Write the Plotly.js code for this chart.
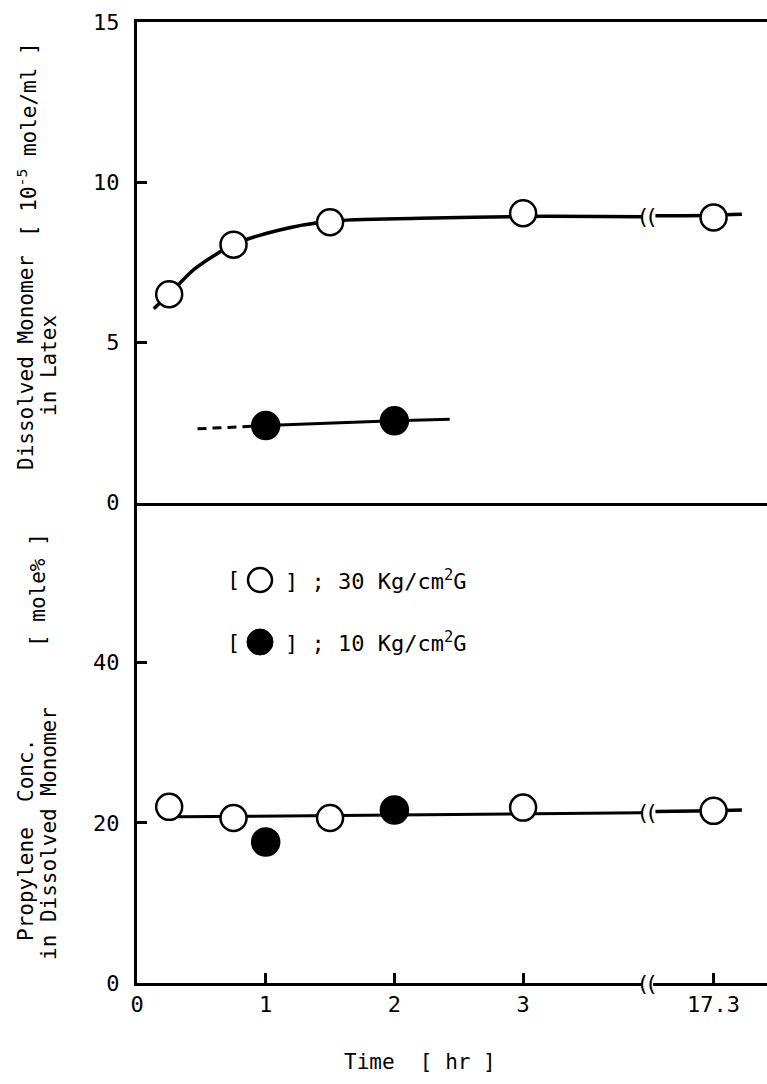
<!DOCTYPE html>
<html><head><meta charset="utf-8">
<script src="https://cdn.plot.ly/plotly-3.0.1.min.js"></script>
<style>html,body{margin:0;padding:0;background:#fff;}</style>
</head><body><div id="chart" style="width:767px;height:1084px;"></div>
<script>
// ---- data (time in hours) ----
const timeOpen = [0.25, 0.75, 1.5, 3, 17.3];
const monomer30 = [6.5, 8.05, 8.75, 9.03, 8.9];
const timeFilled = [1, 2];
const monomer10 = [2.4, 2.55];
const propylene30 = [22.0, 20.6, 20.6, 21.9, 21.5];
const propylene10 = [17.6, 21.6];

// hand-drawn curves through the points
const fit30T = [0.13, 0.25, 0.45, 0.75, 1.1, 1.5, 2.2, 3.0, 3.92];
const fit30Y = [6.05, 6.5, 7.3, 8.05, 8.5, 8.78, 8.87, 8.93, 8.92];
const fit30TLate = [16.17, 17.3, 17.85];
const fit30YLate = [8.95, 8.97, 9.0];
const fit10TDash = [0.47, 1.0];
const fit10YDash = [2.3, 2.4];
const fit10T = [1.0, 2.0, 2.43];
const fit10Y = [2.4, 2.55, 2.6];
const prop30T = [0.32, 3.92];
const prop30Y = [20.75, 21.25];
const prop30TLate = [16.17, 17.3, 17.85];
const prop30YLate = [21.4, 21.5, 21.6];

const tickTimes = [0, 1, 2, 3, 17.3];
const tickLabels = ['0', '1', '2', '3', '17.3'];
const yTopTicks = [0, 5, 10, 15];
const yBotTicks = [0, 20, 40];

// broken time axis: linear up to 4 h, then a compressed segment around 17.3 h
function pos(t) { return t <= 4 ? t : 4.48 + (t - 17.3) * 0.4; }
const P = a => a.map(pos);

const FONT = 'DejaVu Sans Mono, monospace';
const BLK = 'black';

function line(xs, ys, ax, dash, w) {
  return {x: P(xs), y: ys, xaxis: ax === 'y2' ? 'x2' : 'x', yaxis: ax, mode: 'lines', hoverinfo: 'skip',
    line: {color: BLK, width: w || 3, shape: 'spline', smoothing: 0.8, dash: dash || 'solid'}};
}
function pts(xs, ys, ax, filled) {
  return {x: P(xs), y: ys, xaxis: ax === 'y2' ? 'x2' : 'x', yaxis: ax, mode: 'markers',
    marker: {size: filled ? 27 : 26, color: filled ? BLK : 'white', line: {color: BLK, width: 2.5}}};
}

const traces = [
  line(fit30T, fit30Y, 'y2', null, 3.5),
  line(fit30TLate, fit30YLate, 'y2', null, 3.5),
  line(fit10TDash, fit10YDash, 'y2', '9px,6px', 3),
  line(fit10T, fit10Y, 'y2', null, 3),
  line(prop30T, prop30Y, 'y', null, 3),
  line(prop30TLate, prop30YLate, 'y', null, 3.5),
  pts(timeOpen, monomer30, 'y2', false),
  pts(timeFilled, monomer10, 'y2', true),
  pts(timeOpen, propylene30, 'y', false),
  pts(timeFilled, propylene10, 'y', true)
];

// pixel -> paper helpers (plot area: x 137..767, y 22..983)
const px = v => (v - 137) / 630;
const py = v => (983 - v) / 961;

const yAxisCommon = {showline: true, linewidth: 3, linecolor: BLK, ticks: 'inside', ticklen: 10,
  tickwidth: 3, tickcolor: BLK, showgrid: false, zeroline: false, ticklabelstandoff: 10,
  tickfont: {family: FONT, size: 22, color: BLK}, fixedrange: true};

const ann = [];
function txt(text, x, y, opts) {
  ann.push(Object.assign({text: text, x: px(x), y: py(y), xref: 'paper', yref: 'paper',
    xanchor: 'center', yanchor: 'middle',
    showarrow: false, font: {family: FONT, size: 21, color: BLK}}, opts || {}));
}
// y titles
txt('Dissolved Monomer', 26, 362, {textangle: -90});
txt('in Latex', 49, 366, {textangle: -90});
txt('[ 10<sup>-5</sup> mole/ml ]', 27, 140, {textangle: -90});
txt('Propylene  Conc.', 26, 840, {textangle: -90});
txt('in Dissolved Monomer', 49, 834, {textangle: -90});
txt('[ mole% ]', 38, 590, {textangle: -90});
// x title
txt('Time  [ hr ]', 420, 1062);
// legend text
const legFont = {family: FONT, size: 22, color: BLK};
txt('[', 233, 580, {font: legFont});
txt('] ; 30 Kg/cm<sup>2</sup>G', 283, 580, {xanchor: 'left', font: legFont});
txt('[', 233, 642, {font: legFont});
txt('] ; 10 Kg/cm<sup>2</sup>G', 283, 642, {xanchor: 'left', font: legFont});

// axis-break marks
const breakPos = 3.965;
const brk = (y, yref) => ann.push({text: '((', x: breakPos, xref: 'x', y: y, yref: yref,
  xanchor: 'center', yanchor: 'middle', showarrow: false, borderpad: 0,
  font: {family: 'DejaVu Sans', size: 22, color: BLK}});
brk(8.92, 'y2');
brk(21.25, 'y');
ann.push({text: '((', x: breakPos, xref: 'x', y: 0, yref: 'paper', xanchor: 'center', yanchor: 'middle',
  showarrow: false, font: {family: 'DejaVu Sans', size: 22, color: BLK}, borderpad: 0});

const shapes = [
  {type: 'circle', xref: 'paper', yref: 'paper', x0: px(248), x1: px(272), y0: py(592), y1: py(568),
   line: {color: BLK, width: 2.5}, fillcolor: 'white'},
  {type: 'circle', xref: 'paper', yref: 'paper', x0: px(247), x1: px(273), y0: py(655), y1: py(629),
   line: {color: BLK, width: 1}, fillcolor: BLK},
  // gap in the time axis line at the break
  {type: 'rect', xref: 'x', yref: 'paper', x0: 3.925, x1: 4.01, y0: py(987), y1: py(979),
   fillcolor: 'white', line: {width: 0}, layer: 'above'}
];

const layout = {
  width: 767, height: 1084, margin: {l: 137, r: 0, t: 22, b: 101}, showlegend: false,
  paper_bgcolor: 'white', plot_bgcolor: 'white', font: {family: FONT, size: 21, color: BLK},
  xaxis: {range: [0, 4.895], anchor: 'y', showline: true, linewidth: 3, linecolor: BLK,
    ticks: 'inside', ticklen: 10, tickwidth: 3, tickcolor: BLK,
    tickvals: P(tickTimes), ticktext: tickLabels, showgrid: false, zeroline: false,
    ticklabelstandoff: 0, tickfont: {family: FONT, size: 22, color: BLK}, fixedrange: true},
  xaxis2: {range: [0, 4.895], anchor: 'y2', showline: true, mirror: true, linewidth: 3, linecolor: BLK,
    ticks: '', showticklabels: false, showgrid: false, zeroline: false, fixedrange: true},
  yaxis: Object.assign({}, yAxisCommon, {domain: [0, 0.5], range: [0, 60], tickvals: yBotTicks, anchor: 'x'}),
  yaxis2: Object.assign({}, yAxisCommon, {domain: [0.5, 1], range: [0, 15], tickvals: yTopTicks, anchor: 'x2'}),
  annotations: ann,
  shapes: shapes
};

Plotly.newPlot('chart', traces, layout, {displayModeBar: false, staticPlot: true});
</script></body></html>
